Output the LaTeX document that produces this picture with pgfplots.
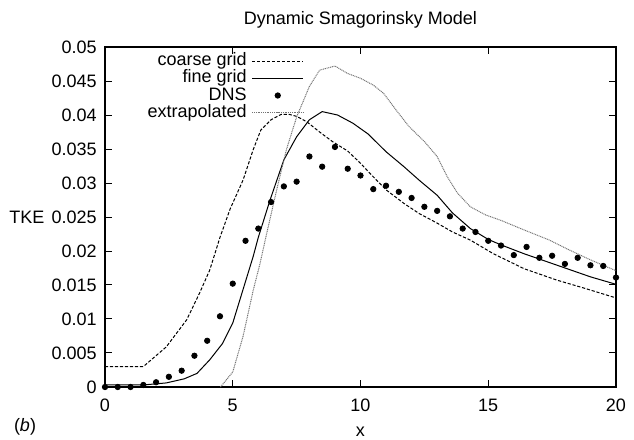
\documentclass[border=0pt]{standalone}
\usepackage{pgfplots}
\pgfplotsset{compat=1.18}
\usepackage{fontspec}
\setmainfont{Liberation Sans}
\begin{document}
\fontsize{9pt}{10.8pt}\selectfont
\begin{tikzpicture}
\useasboundingbox (-52.5pt,-26.5pt) rectangle (264.5pt,193.5pt);
\begin{axis}[
  scale only axis, width=255.5pt, height=170pt,
  at={(0,0)}, anchor=south west,
  clip=false,
  xmin=0, xmax=20, ymin=0, ymax=0.05,
  xtick={0,5,10,15,20},
  ytick={0,0.005,0.01,0.015,0.02,0.025,0.03,0.035,0.04,0.045,0.05},
  yticklabels={0,0.005,0.01,0.015,0.02,0.025,0.03,0.035,0.04,0.045,0.05},
  xticklabels={0,5,10,15,20},
  scaled y ticks=false,
  /pgf/number format/assume math mode=true,
  tick align=inside, major tick length=3.5pt,
  tick style={black, line width=0.5pt},
  axis line style={line width=0.6pt},
  ticklabel style={font=\fontsize{9pt}{10pt}\selectfont},
  xticklabel style={yshift=-3pt},
  yticklabel style={xshift=-1pt},
  legend image code/.code={\draw[mark repeat=2,mark phase=2,#1] plot coordinates {(0cm,0cm) (0.45cm,0cm) (0.9cm,0cm)};},
  legend plot pos=right,
  legend cell align=right,
  legend style={draw=none, fill=none, at={(0.39,0.985)}, anchor=north east, inner sep=0pt,
    row sep=0pt, column sep=0pt,
    nodes={inner sep=0pt, inner xsep=2.5pt, text height=6.6pt, text depth=2pt},
    font=\fontsize{9pt}{9pt}\selectfont},
]
\addplot[black, line width=0.5pt, dash pattern=on 1.6pt off 0.9pt] coordinates {
(0,0.003) (1.5,0.003) (2.4,0.0059) (3.2,0.0099) (3.7,0.0138) (4.1,0.0172) (4.5,0.022)
(4.9,0.0262) (5.4,0.0304) (5.8,0.0349) (6.1,0.0378) (6.5,0.0393) (6.9,0.0401) (7.2,0.0401)
(7.5,0.0398) (7.9,0.039) (8.4,0.0375) (8.9,0.0361) (9.5,0.0347) (10,0.0329) (10.4,0.0313)
(11,0.029) (11.7,0.027) (12.3,0.0255) (13,0.0241) (13.6,0.0228) (14.3,0.0216) (15.2,0.0196)
(16.4,0.0174) (17.7,0.0157) (18.7,0.0146) (20,0.0131)};
\addlegendentry{coarse grid}
\addplot[black, line width=0.5pt] coordinates {
(0,0.0003) (1.5,0.0003) (2.4,0.0006) (3.1,0.0012) (3.6,0.002) (4.1,0.004) (4.6,0.0064)
(5.0,0.0094) (5.4,0.0143) (5.8,0.0192) (6.0,0.022) (6.46,0.0275) (7.0,0.0334) (7.5,0.0368)
(8.0,0.0393) (8.5,0.0405) (9.1,0.040) (9.7,0.0388) (10.3,0.0372) (11.0,0.0346) (11.7,0.0324)
(12.3,0.0304) (13.0,0.0282) (13.6,0.0256) (14.3,0.0233) (15.0,0.0217) (15.5,0.0209)
(16.4,0.0196) (17.7,0.0179) (19,0.0162) (20,0.0151)};
\addlegendentry{fine grid}
\addplot[only marks, mark=*, mark size=1.35pt, black] coordinates {
(0,0) (0.5,0) (1,0) (1.5,0.0003) (2,0.0007) (2.5,0.0015) (3,0.0024) (3.5,0.0046) (4,0.0068)
(4.5,0.0104) (5,0.0152) (5.5,0.0215) (6,0.0233) (6.5,0.0272) (7,0.0295) (7.5,0.0302)
(8,0.0339) (8.5,0.0324) (9,0.0353) (9.5,0.0321) (10,0.0311) (10.5,0.0291) (11,0.0296)
(11.5,0.0287) (12,0.0278) (12.5,0.0265) (13,0.0259) (13.5,0.0251) (14,0.0233) (14.5,0.0228)
(15,0.0215) (15.5,0.0208) (16,0.0194) (16.5,0.0206) (17,0.0190) (17.5,0.0193) (18,0.0181)
(18.5,0.0190) (19,0.0179) (19.5,0.0178) (20,0.0161)};
\addlegendentry{DNS}
\addplot[black!55, line width=0.5pt, dash pattern=on 0.5pt off 0.4pt] coordinates {
(4.52,0) (5.0,0.0022) (5.4,0.0074) (5.8,0.0142) (6.07,0.0182) (6.33,0.0226) (6.72,0.029)
(7.1,0.0349) (7.5,0.0397) (8.0,0.0442) (8.4,0.0466) (9.0,0.0472) (9.5,0.0461) (10.0,0.0454)
(10.5,0.0444) (10.9,0.0432) (11.4,0.0407) (11.9,0.0383) (12.5,0.0361) (13.0,0.0339)
(13.4,0.0309) (13.8,0.0285) (14.3,0.0265) (14.9,0.0253) (15.5,0.0245) (16.4,0.0231)
(17.4,0.0216) (18.2,0.0201) (19.0,0.0187) (20,0.0171)};
\addlegendentry{extrapolated}
\node[anchor=center, font=\fontsize{9pt}{10pt}\selectfont, yshift=13.5pt] at (rel axis cs:0.5,1) {Dynamic Smagorinsky Model};
\node[anchor=center, font=\fontsize{9pt}{10pt}\selectfont, yshift=-22.5pt] at (rel axis cs:0.5,0) {x};
\node[anchor=center, font=\fontsize{9pt}{10pt}\selectfont, xshift=-39pt] at (rel axis cs:0,0.5) {TKE};
\node[anchor=center, font=\fontsize{9pt}{10pt}\selectfont, xshift=-40pt, yshift=-20pt] at (rel axis cs:0,0) {(\textit{b})};
\end{axis}
\end{tikzpicture}
\end{document}
